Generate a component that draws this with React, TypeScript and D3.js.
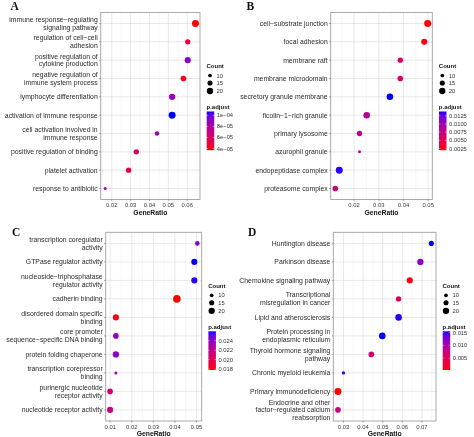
import React from "react";
import * as d3 from "d3";

// ---------- DATA ----------
const termsA = [
  "immune response−regulating\nsignaling pathway",
  "regulation of cell−cell\nadhesion",
  "positive regulation of\ncytokine production",
  "negative regulation of\nimmune system process",
  "lymphocyte differentiation",
  "activation of immune response",
  "cell activation involved in\nimmune response",
  "positive regulation of binding",
  "platelet activation",
  "response to antibiotic",
];
const ratioA = [0.0644, 0.0603, 0.0603, 0.058, 0.052, 0.052, 0.044, 0.033, 0.0289, 0.0165];
const countA = [23, 16, 19, 17, 20, 23, 13, 16, 16, 8];
const padjA = [3.7e-5, 4.75e-5, 9.0e-5, 4.05e-5, 8.7e-5, 1.07e-4, 8.6e-5, 5.8e-5, 5.45e-5, 8.7e-5];
const xTicksA = [0.02, 0.03, 0.04, 0.05, 0.06];
const cTicksA = [4e-5, 6e-5, 8e-5, 1e-4];
const cLabelsA = ["4e−05", "6e−05", "8e−05", "1e−04"];

const termsB = [
  "cell−substrate junction",
  "focal adhesion",
  "membrane raft",
  "membrane microdomain",
  "secretory granule membrane",
  "ficolin−1−rich granule",
  "primary lysosome",
  "azurophil granule",
  "endopeptidase complex",
  "proteasome complex",
];
const ratioB = [0.0498, 0.0484, 0.0387, 0.0387, 0.0345, 0.0251, 0.0222, 0.0222, 0.014, 0.0124];
const countB = [23, 19, 16, 17, 21, 21, 16, 8, 23, 17];
const padjB = [0.002, 0.0024, 0.0061, 0.0061, 0.0138, 0.0085, 0.0079, 0.0079, 0.0136, 0.0073];
const xTicksB = [0.02, 0.03, 0.04, 0.05];
const cTicksB = [0.0025, 0.005, 0.0075, 0.01, 0.0125];
const cLabelsB = ["0.0025", "0.0050", "0.0075", "0.0100", "0.0125"];

const termsC = [
  "transcription coregulator\nactivity",
  "GTPase regulator activity",
  "nucleoside−triphosphatase\nregulator activity",
  "cadherin binding",
  "disordered domain specific\nbinding",
  "core promoter\nsequence−specific DNA binding",
  "protein folding chaperone",
  "transcription corepressor\nbinding",
  "purinergic nucleotide\nreceptor activity",
  "nucleotide receptor activity",
];
const ratioC = [0.0504, 0.049, 0.049, 0.0409, 0.0126, 0.0126, 0.0126, 0.0126, 0.0099, 0.0099];
const countC = [13, 19, 19, 26, 19, 17, 20, 8, 17, 19];
const padjC = [0.0242, 0.026, 0.0258, 0.0178, 0.018, 0.024, 0.024, 0.0237, 0.0212, 0.0212];
const xTicksC = [0.01, 0.02, 0.03, 0.04, 0.05];
const cTicksC = [0.018, 0.02, 0.022, 0.024];
const cLabelsC = ["0.018", "0.020", "0.022", "0.024"];

const termsD = [
  "Huntington disease",
  "Parkinson disease",
  "Chemokine signaling pathway",
  "Transcriptional\nmisregulation in cancer",
  "Lipid and atherosclerosis",
  "Protein processing in\nendoplasmic reticulum",
  "Thyroid hormone signaling\npathway",
  "Chronic myeloid leukemia",
  "Primary immunodeficiency",
  "Endocrine and other\nfactor−regulated calcium\nreabsorption",
];
const ratioD = [0.0748, 0.0692, 0.0638, 0.0581, 0.0581, 0.0498, 0.0442, 0.03, 0.0272, 0.0272];
const countD = [15, 20, 19, 16, 21, 21, 17, 9, 23, 17];
const padjD = [0.0155, 0.0119, 0.0008, 0.005, 0.0153, 0.0155, 0.0057, 0.015, 0.0003, 0.0068];
const xTicksD = [0.03, 0.04, 0.05, 0.06, 0.07];
const cTicksD = [0.005, 0.01, 0.015];
const cLabelsD = ["0.005", "0.010", "0.015"];

const sizeBreaks = [10, 15, 20];

// ---------- LAYOUT ----------
const W = 474;
const H = 437;
const SANS = "'Liberation Sans', Arial, Helvetica, sans-serif";
const SERIF = "'Liberation Serif', 'Times New Roman', serif";

const panels = [
  { id: "A", terms: termsA, ratio: ratioA, count: countA, padj: padjA, xTicks: xTicksA, cTicks: cTicksA, cLabels: cLabelsA,
    box: { l: 100.7, r: 200, t: 12.5, b: 199.5 }, letter: { x: 10.5, y: 10 } },
  { id: "B", terms: termsB, ratio: ratioB, count: countB, padj: padjB, xTicks: xTicksB, cTicks: cTicksB, cLabels: cLabelsB,
    box: { l: 330.7, r: 432.3, t: 12.5, b: 199.5 }, letter: { x: 246.5, y: 10 } },
  { id: "C", terms: termsC, ratio: ratioC, count: countC, padj: padjC, xTicks: xTicksC, cTicks: cTicksC, cLabels: cLabelsC,
    box: { l: 105.7, r: 201.7, t: 232.3, b: 421 }, letter: { x: 12, y: 235.5 } },
  { id: "D", terms: termsD, ratio: ratioD, count: countD, padj: padjD, xTicks: xTicksD, cTicks: cTicksD, cLabels: cLabelsD,
    box: { l: 333.3, r: 436, t: 232.3, b: 421 }, letter: { x: 248, y: 235.8 } },
];

const rScale = d3.scalePow().exponent(0.5).domain([5, 25]).range([0.9, 3.7]);
const interp = d3.interpolateLab("#FF0000", "#0000FF");

function Panel({ p }: { p: any }) {
  const { l, r, t, b } = p.box;
  const ext = d3.extent(p.ratio as number[]) as [number, number];
  const span = ext[1] - ext[0];
  const x = d3.scaleLinear().domain([ext[0] - span * 0.05, ext[1] + span * 0.05]).range([l, r]);
  const y = d3.scalePoint<string>().domain(p.terms).range([t, b]).padding(0.6);
  const pext = d3.extent(p.padj as number[]) as [number, number];
  const color = d3.scaleSequential(interp).domain(pext);

  const [d0, d1] = x.domain();
  const step = p.xTicks[1] - p.xTicks[0];
  const minor: number[] = [];
  for (let i = -1; i < p.xTicks.length; i++) {
    const v = p.xTicks[0] + step * (i + 0.5);
    if (v > d0 && v < d1) minor.push(v);
  }

  const fs = 6.85;
  const ls = 7.6;

  const lx = r;
  const cbTop = t + 99;
  const cbBot = t + 137.7;
  const cy = d3.scaleLinear().domain(pext).range([cbBot, cbTop]);
  const gradId = "grad" + p.id;
  const stops = d3.range(0, 1.0001, 0.05);
  const sizeY = [t + 63, t + 70.5, t + 78.5];

  return (
    <g>
      <defs>
        <linearGradient id={gradId} x1="0" y1="1" x2="0" y2="0">
          {stops.map((s) => (
            <stop key={s} offset={s} stopColor={interp(s)} />
          ))}
        </linearGradient>
      </defs>
      <text x={p.letter.x} y={p.letter.y} fontFamily={SERIF} fontWeight="bold" fontSize={11.5} fill="#111">
        {p.id}
      </text>
      <rect x={l} y={t} width={r - l} height={b - t} fill="#fff" />
      {minor.map((v) => (
        <line key={"mn" + v} x1={x(v)} x2={x(v)} y1={t} y2={b} stroke="#ebebeb" strokeWidth={0.4} />
      ))}
      {p.xTicks.map((v: number) => (
        <line key={"mj" + v} x1={x(v)} x2={x(v)} y1={t} y2={b} stroke="#d9d9d9" strokeWidth={0.6} />
      ))}
      {p.terms.map((term: string) => (
        <line key={"h" + term} x1={l} x2={r} y1={y(term)} y2={y(term)} stroke="#d9d9d9" strokeWidth={0.6} />
      ))}
      <rect x={l} y={t} width={r - l} height={b - t} fill="none" stroke="#a0a0a0" strokeWidth={0.9} />
      {p.xTicks.map((v: number) => (
        <line key={"xt" + v} x1={x(v)} x2={x(v)} y1={b} y2={b + 1.6} stroke="#555" strokeWidth={0.5} />
      ))}
      {p.terms.map((term: string) => (
        <line key={"yt" + term} x1={l - 1.6} x2={l} y1={y(term)} y2={y(term)} stroke="#555" strokeWidth={0.5} />
      ))}
      {p.xTicks.map((v: number) => (
        <text key={"xl" + v} x={x(v)} y={b + 7.6} textAnchor="middle" fontFamily={SANS} fontSize={5.9} fill="#404040">
          {d3.format(".2f")(v)}
        </text>
      ))}
      <text x={(l + r) / 2} y={b + 15.2} textAnchor="middle" fontFamily={SANS} fontWeight="bold" fontSize={6.8} fill="#111">
        GeneRatio
      </text>
      {p.terms.map((term: string) => {
        const lines = term.split("\n");
        const cyv = y(term) as number;
        return (
          <text key={"yl" + term} textAnchor="end" fontFamily={SANS} fontSize={fs} fill="#2b2b2b" style={{ fill: "#2b2b2b" }}>
            {lines.map((ln, i) => (
              <tspan key={i} x={l - 3} y={cyv + (i - (lines.length - 1) / 2) * ls + fs * 0.35} fill="#2b2b2b">
                {ln}
              </tspan>
            ))}
          </text>
        );
      })}
      {p.terms.map((term: string, i: number) => (
        <circle key={"pt" + term} cx={x(p.ratio[i])} cy={y(term)} r={rScale(p.count[i])} fill={color(p.padj[i])} />
      ))}
      <text x={lx + 6.5} y={t + 55.3} fontFamily={SANS} fontWeight="bold" fontSize={6} fill="#111">
        Count
      </text>
      {sizeBreaks.map((s, i) => (
        <g key={"sz" + s}>
          <circle cx={lx + 10} cy={sizeY[i]} r={rScale(s)} fill="#000" />
          <text x={lx + 16.5} y={sizeY[i] + 2} fontFamily={SANS} fontSize={5.8} fill="#333">
            {s}
          </text>
        </g>
      ))}
      <text x={lx + 6.5} y={t + 96.4} fontFamily={SANS} fontWeight="bold" fontSize={6} fill="#111">
        p.adjust
      </text>
      <rect x={lx + 6.7} y={cbTop} width={7.5} height={cbBot - cbTop} fill={`url(#${gradId})`} />
      {p.cTicks.map((v: number, i: number) => (
        <g key={"ct" + v}>
          <line x1={lx + 6.7} x2={lx + 8.2} y1={cy(v)} y2={cy(v)} stroke="#fff" strokeWidth={0.4} />
          <line x1={lx + 12.7} x2={lx + 14.2} y1={cy(v)} y2={cy(v)} stroke="#fff" strokeWidth={0.4} />
          <text x={lx + 16.8} y={cy(v) + 2} fontFamily={SANS} fontSize={5.8} fill="#333">
            {p.cLabels[i]}
          </text>
        </g>
      ))}
    </g>
  );
}

export default function App() {
  return (
    <svg
      width={W}
      height={H}
      viewBox={`0 0 ${W} ${H}`}
      style={{ position: "absolute", left: 0, top: 0, background: "#fff", willChange: "transform" }}
    >
      <rect x={0} y={0} width={W} height={H} fill="#fff" />
      {panels.map((p) => (
        <Panel key={p.id} p={p} />
      ))}
    </svg>
  );
}
